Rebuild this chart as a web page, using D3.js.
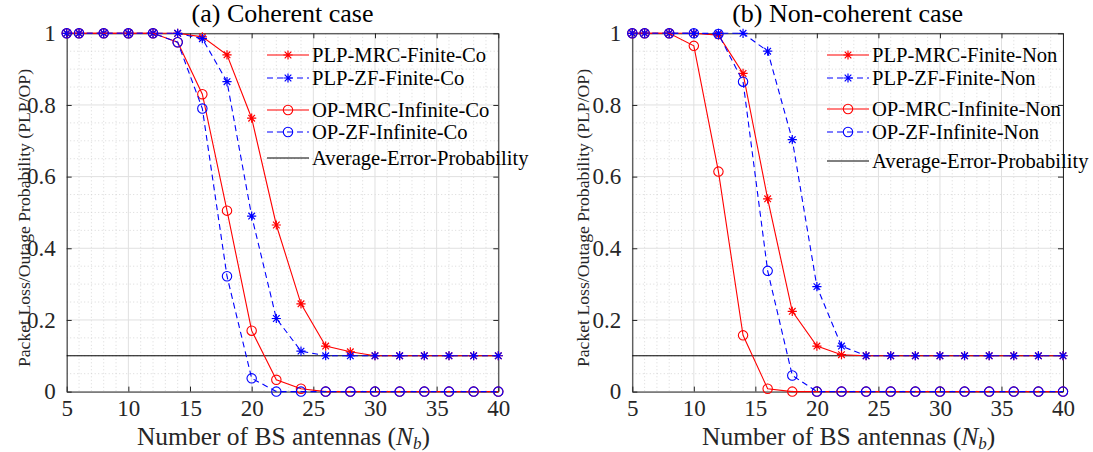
<!DOCTYPE html>
<meta charset="utf-8">
<script src="https://d3js.org/d3.v7.min.js"></script>
<style>
  body { margin: 0; background: #fff; }
  svg text { font-family: "Liberation Serif", "DejaVu Serif", serif; }
</style>
<div id="chart"></div>
<script>

// x values (number of BS antennas)
var antennas = [5, 6, 8, 10, 12, 14, 16, 18, 20, 22, 24, 26, 28, 30, 32, 34, 36, 38, 40];

// (a) coherent case
var plpMrcCo = [1, 1, 1, 1, 1, 1, 0.99, 0.94, 0.763, 0.465, 0.245, 0.127, 0.111, 0.1, 0.1, 0.1, 0.1, 0.1, 0.1];
var plpZfCo  = [1, 1, 1, 1, 1, 1, 0.985, 0.865, 0.49, 0.204, 0.113, 0.1, 0.1, 0.1, 0.1, 0.1, 0.1, 0.1, 0.1];
var opMrcCo  = [1, 1, 1, 1, 1, 0.975, 0.83, 0.505, 0.17, 0.033, 0.008, 0, 0, 0, 0, 0, 0, 0, 0];
var opZfCo   = [1, 1, 1, 1, 1, 0.975, 0.79, 0.322, 0.037, 0, 0, 0, 0, 0, 0, 0, 0, 0, 0];

// (b) non-coherent case
var plpMrcNon = [1, 1, 1, 1, 0.995, 0.888, 0.538, 0.224, 0.127, 0.103, 0.1, 0.1, 0.1, 0.1, 0.1, 0.1, 0.1, 0.1, 0.1];
var plpZfNon  = [1, 1, 1, 1, 1, 1, 0.95, 0.703, 0.293, 0.127, 0.1, 0.1, 0.1, 0.1, 0.1, 0.1, 0.1, 0.1, 0.1];
var opMrcNon  = [1, 1, 1, 0.965, 0.614, 0.157, 0.008, 0, 0, 0, 0, 0, 0, 0, 0, 0, 0, 0, 0];
var opZfNon   = [1, 1, 1, 1, 0.998, 0.865, 0.337, 0.045, 0, 0, 0, 0, 0, 0, 0, 0, 0, 0, 0];

var avgErrorProb = 0.1;

var xTicks = [5, 10, 15, 20, 25, 30, 35, 40];
var yTicks = [0, 0.2, 0.4, 0.6, 0.8, 1];

var seriesStyle = [
  { color: "#ff0000", dash: null, marker: "star" },
  { color: "#0000ff", dash: "6,4", marker: "star" },
  { color: "#ff0000", dash: null, marker: "circle" },
  { color: "#0000ff", dash: "6,4", marker: "circle" }
];

var panels = [
  { title: "(a) Coherent case", left: 66.7, right: 498.3,
    series: [plpMrcCo, plpZfCo, opMrcCo, opZfCo],
    names: ["PLP-MRC-Finite-Co", "PLP-ZF-Finite-Co", "OP-MRC-Infinite-Co", "OP-ZF-Infinite-Co", "Average-Error-Probability"],
    legX: 267, legRows: [55, 78, 110, 132, 158], ylabX: 24 },
  { title: "(b) Non-coherent case", left: 632.3, right: 1063,
    series: [plpMrcNon, plpZfNon, opMrcNon, opZfNon],
    names: ["PLP-MRC-Finite-Non", "PLP-ZF-Finite-Non", "OP-MRC-Infinite-Non", "OP-ZF-Infinite-Non", "Average-Error-Probability"],
    legX: 827, legRows: [55, 78, 109, 132, 161], ylabX: 583 }
];

var W = 1093, H = 452, top_ = 33.3, bottom_ = 391.6;
var serif = "'Liberation Serif', 'DejaVu Serif', serif";

var svg = d3.select("#chart").append("svg")
    .attr("width", W).attr("height", H);

function drawMarker(g, type, cx, cy, color) {
  if (type == "circle") {
    g.append("circle").attr("cx", cx).attr("cy", cy).attr("r", 4.7)
      .attr("fill", "none").attr("stroke", color).attr("stroke-width", 1.1);
  } else {
    var s = 4.6, d = s * 0.72;
    var p = "M" + (cx - s) + "," + cy + "H" + (cx + s) +
            "M" + cx + "," + (cy - s) + "V" + (cy + s) +
            "M" + (cx - d) + "," + (cy - d) + "L" + (cx + d) + "," + (cy + d) +
            "M" + (cx - d) + "," + (cy + d) + "L" + (cx + d) + "," + (cy - d);
    g.append("path").attr("d", p).attr("stroke", color).attr("stroke-width", 1.2).attr("fill", "none");
  }
}

panels.forEach(function(pn) {
  var x = d3.scaleLinear().domain([5, 40]).range([pn.left, pn.right]);
  var y = d3.scaleLinear().domain([0, 1]).range([bottom_, top_]);
  var g = svg.append("g").attr("font-family", serif);

  // minor grid
  var minorX = d3.range(6, 40).filter(function(v) { return v % 5 != 0; });
  var minorY = d3.range(1, 20).map(function(i) { return i * 0.05; }).filter(function(v, i) { return (i + 1) % 4 != 0; });
  g.selectAll(".mx").data(minorX).enter().append("line")
    .attr("x1", function(d) { return x(d); }).attr("x2", function(d) { return x(d); })
    .attr("y1", top_).attr("y2", bottom_)
    .attr("stroke", "#cfcfcf").attr("stroke-width", 0.8).attr("stroke-dasharray", "1,2.5");
  g.selectAll(".my").data(minorY).enter().append("line")
    .attr("y1", function(d) { return y(d); }).attr("y2", function(d) { return y(d); })
    .attr("x1", pn.left).attr("x2", pn.right)
    .attr("stroke", "#cfcfcf").attr("stroke-width", 0.8).attr("stroke-dasharray", "1,2.5");

  // major grid
  g.selectAll(".gx").data(xTicks).enter().append("line")
    .attr("x1", function(d) { return x(d); }).attr("x2", function(d) { return x(d); })
    .attr("y1", top_).attr("y2", bottom_)
    .attr("stroke", "#e0e0e0").attr("stroke-width", 1);
  g.selectAll(".gy").data(yTicks).enter().append("line")
    .attr("y1", function(d) { return y(d); }).attr("y2", function(d) { return y(d); })
    .attr("x1", pn.left).attr("x2", pn.right)
    .attr("stroke", "#e0e0e0").attr("stroke-width", 1);

  // axes with inward ticks on all four sides
  var ax = g.append("g").attr("transform", "translate(0," + bottom_ + ")")
    .call(d3.axisBottom(x).tickValues(xTicks).tickSizeInner(-5).tickSizeOuter(0).tickPadding(11).tickFormat(d3.format("d")));
  var ay = g.append("g").attr("transform", "translate(" + pn.left + ",0)")
    .call(d3.axisLeft(y).tickValues(yTicks).tickSizeInner(-5).tickSizeOuter(0).tickPadding(11).tickFormat(function(d) { return d3.format("~g")(d); }));
  var at = g.append("g").attr("transform", "translate(0," + top_ + ")")
    .call(d3.axisTop(x).tickValues(xTicks).tickSizeInner(-5).tickSizeOuter(0).tickFormat(""));
  var ar = g.append("g").attr("transform", "translate(" + pn.right + ",0)")
    .call(d3.axisRight(y).tickValues(yTicks).tickSizeInner(-5).tickSizeOuter(0).tickFormat(""));
  [ax, ay, at, ar].forEach(function(a) {
    a.attr("font-family", serif).attr("font-size", 23);
    a.selectAll("path,line").attr("stroke", "#262626").attr("stroke-width", 1);
    a.selectAll("text").attr("fill", "#262626");
  });
  ax.selectAll("text").attr("dy", "0.6em");

  // average error probability line
  g.append("line")
    .attr("x1", x(5)).attr("x2", x(40))
    .attr("y1", y(avgErrorProb)).attr("y2", y(avgErrorProb))
    .attr("stroke", "#000").attr("stroke-width", 1);

  // series
  var line = d3.line().x(function(d) { return x(d[0]); }).y(function(d) { return y(d[1]); });
  pn.series.forEach(function(vals, i) {
    var st = seriesStyle[i];
    var pts = antennas.map(function(a, k) { return [a, vals[k]]; });
    g.append("path").datum(pts).attr("d", line)
      .attr("fill", "none").attr("stroke", st.color).attr("stroke-width", 1.1)
      .attr("stroke-dasharray", st.dash);
    pts.forEach(function(p) { drawMarker(g, st.marker, x(p[0]), y(p[1]), st.color); });
  });

  // title
  g.append("text").attr("x", (pn.left + pn.right) / 2).attr("y", 22)
    .attr("text-anchor", "middle").attr("fill", "#000").attr("font-size", 26).text(pn.title);

  // x label
  var xl = g.append("text").attr("x", (pn.left + pn.right) / 2 + 1).attr("y", 445)
    .attr("text-anchor", "middle").attr("fill", "#262626").attr("font-size", 25.5);
  xl.append("tspan").text("Number of BS antennas (");
  xl.append("tspan").attr("font-style", "italic").text("N");
  xl.append("tspan").attr("font-style", "italic").attr("font-size", 17).attr("dy", 4).text("b");
  xl.append("tspan").attr("dy", -4).text(")");

  // y label
  g.append("text").attr("transform", "translate(" + pn.ylabX + ",218) rotate(-90)")
    .attr("text-anchor", "middle").attr("dy", "0.35em").attr("fill", "#262626")
    .attr("font-size", 17.7).text("Packet Loss/Outage Probability (PLP/OP)");

  // legend
  var lg = g.append("g");
  pn.names.forEach(function(nm, i) {
    var cy = pn.legRows[i];
    var x0 = pn.legX, x1 = pn.legX + 42;
    if (i < 4) {
      var st = seriesStyle[i];
      lg.append("line").attr("x1", x0).attr("x2", x1).attr("y1", cy).attr("y2", cy)
        .attr("stroke", st.color).attr("stroke-width", 1.1).attr("stroke-dasharray", st.dash);
      drawMarker(lg, st.marker, (x0 + x1) / 2, cy, st.color);
    } else {
      lg.append("line").attr("x1", x0).attr("x2", x1).attr("y1", cy).attr("y2", cy)
        .attr("stroke", "#000").attr("stroke-width", 1);
    }
    lg.append("text").attr("x", x1 + 3).attr("y", cy).attr("dy", "0.35em")
      .attr("fill", "#000").attr("font-size", 20.6).text(nm);
  });
});
</script>
